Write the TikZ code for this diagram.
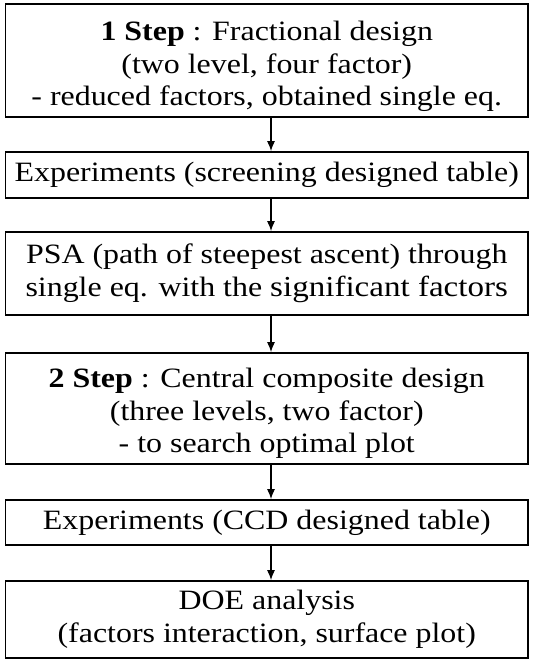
\documentclass[tikz,border=0pt]{standalone}
\usepackage{fontspec}
\setmainfont[FakeStretch=1.14]{Liberation Serif}
\usetikzlibrary{arrows.meta}
\begin{document}
\begin{tikzpicture}[x=1pt,y=-1pt,
  stepbox/.style={draw, line width=1.7pt, minimum width=522.5pt, align=center, inner sep=0pt,
    font=\fontsize{28}{32.5}\selectfont},
  conn/.style={line width=1.3pt, -{Latex[length=10pt,width=8pt]}}]
\useasboundingbox[fill=white] (0,0) rectangle (533,660);
\node[stepbox, minimum height=113pt] (b1) at (266.75,60.5)
  {\rule{0pt}{32pt}\textbf{1 Step} : Fractional design\\(two level, four factor)\\- reduced factors, obtained single eq.};
\node[stepbox, minimum height=46pt] (b2) at (266.75,175)
  {Experiments (screening designed table)};
\node[stepbox, minimum height=83pt] (b3) at (266.75,273.5)
  {PSA (path of steepest ascent) through\\single eq. with the {\fontsize{29}{32.5}\selectfont significant factors}};
\node[stepbox, minimum height=111pt] (b4) at (266.75,408.5)
  {\rule{0pt}{29pt}\textbf{2 Step} : Central composite design\\(three levels, two factor)\\- to search optimal plot};
\node[stepbox, minimum height=45pt] (b5) at (266.75,522.5)
  {Experiments (CCD designed table)};
\node[stepbox, minimum height=77pt] (b6) at (266.75,619.5)
  {DOE analysis\\(factors interaction, surface plot)};
\coordinate (ax) at (271,0);
\draw[conn] (b1.south -| ax) -- (b2.north -| ax);
\draw[conn] (b2.south -| ax) -- (b3.north -| ax);
\draw[conn] (b3.south -| ax) -- (b4.north -| ax);
\draw[conn] (b4.south -| ax) -- (b5.north -| ax);
\draw[conn] (b5.south -| ax) -- (b6.north -| ax);
\end{tikzpicture}
\end{document}
